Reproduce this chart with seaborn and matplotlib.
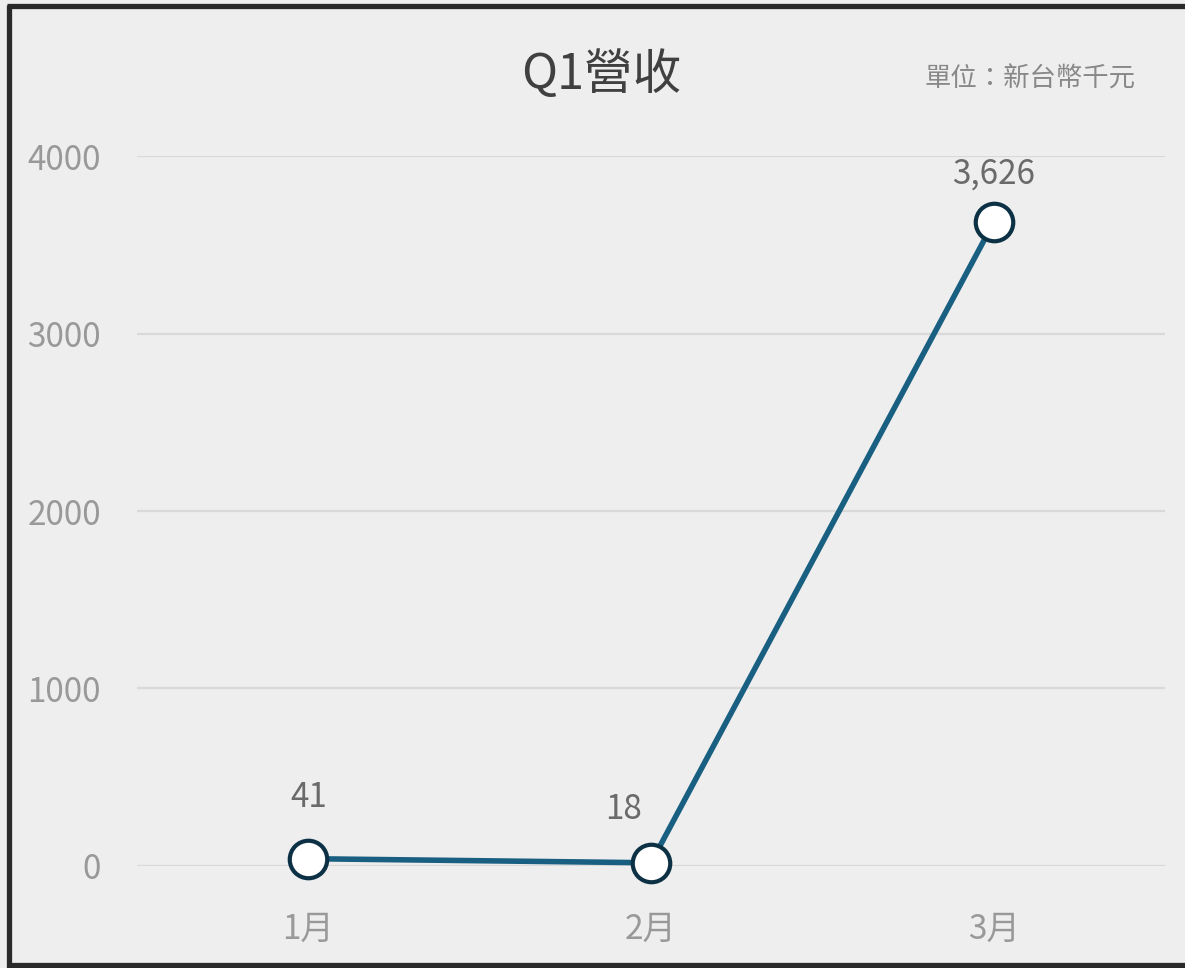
import matplotlib.pyplot as plt
import pandas as pd
import seaborn as sns
from matplotlib.lines import Line2D

months = ["1月", "2月", "3月"]
revenue = [41, 18, 3626]
value_labels = ["41", "18", "3,626"]
y_ticks = [0, 1000, 2000, 3000, 4000]

# per-label offsets in pixels (x, y) from the marker
label_offsets = [(0, 61), (-27, 53), (0, 48)]

sns.set_theme(style="white")
plt.rcParams["font.family"] = ["Noto Sans CJK TC", "DejaVu Sans"]

df = pd.DataFrame({"month": months, "revenue": revenue})

fig = plt.figure(figsize=(11.85, 9.68), dpi=100)
fig.patch.set_facecolor("#eeeeee")
ax = fig.add_axes([0.1156, 0.1054, 0.8675, 0.7334])
ax.set_facecolor("#eeeeee")

sns.lineplot(
    data=df, x="month", y="revenue", ax=ax,
    color="#195f81", linewidth=4.0,
    marker="o", markersize=27, markerfacecolor="white",
    markeredgecolor="#0c3144", markeredgewidth=3.0,
    clip_on=False, zorder=3,
)

ax.set_xlim(-0.5, 2.5)
ax.set_ylim(0, 4000)
ax.set_yticks(y_ticks)
ax.set_yticklabels([str(t) for t in y_ticks])
ax.grid(axis="y", color="#d9d9d9", linewidth=1.6)
ax.set_axisbelow(True)
for s in ax.spines.values():
    s.set_visible(False)
ax.tick_params(axis="y", length=0, pad=26, labelsize=24, labelcolor="#999999")
ax.tick_params(axis="x", length=0, pad=33, labelsize=24, labelcolor="#999999")
for lbl in ax.get_xticklabels() + ax.get_yticklabels():
    lbl.set_fontweight("light")
ax.set_xlabel("")
ax.set_ylabel("")

for i, (val, txt) in enumerate(zip(revenue, value_labels)):
    dx, dy = label_offsets[i]
    ax.annotate(
        txt, xy=(i, val), xytext=(dx * 0.72, dy * 0.72),
        textcoords="offset points", ha="center", va="center",
        fontsize=24, color="#6a6a6a", fontweight="light",
    )

fig.text(0.507, 0.922, "Q1營收", ha="center", va="center",
         fontsize=35, color="#404040", fontweight="light")
fig.text(0.958, 0.918, "單位：新台幣千元", ha="right", va="center",
         fontsize=19, color="#888888", fontweight="light")

# dark frame on left, top and bottom
frame = dict(color="#2a2a2a", linewidth=3.8, solid_capstyle="butt")
fig.add_artist(Line2D([0.0080, 0.0080], [0.0, 0.995], **frame))
fig.add_artist(Line2D([0.0060, 1.0], [0.9943, 0.9943], **frame))
fig.add_artist(Line2D([0.0060, 1.0], [0.0026, 0.0026], **frame))

fig.savefig("out.png", dpi=100, facecolor=fig.get_facecolor())
